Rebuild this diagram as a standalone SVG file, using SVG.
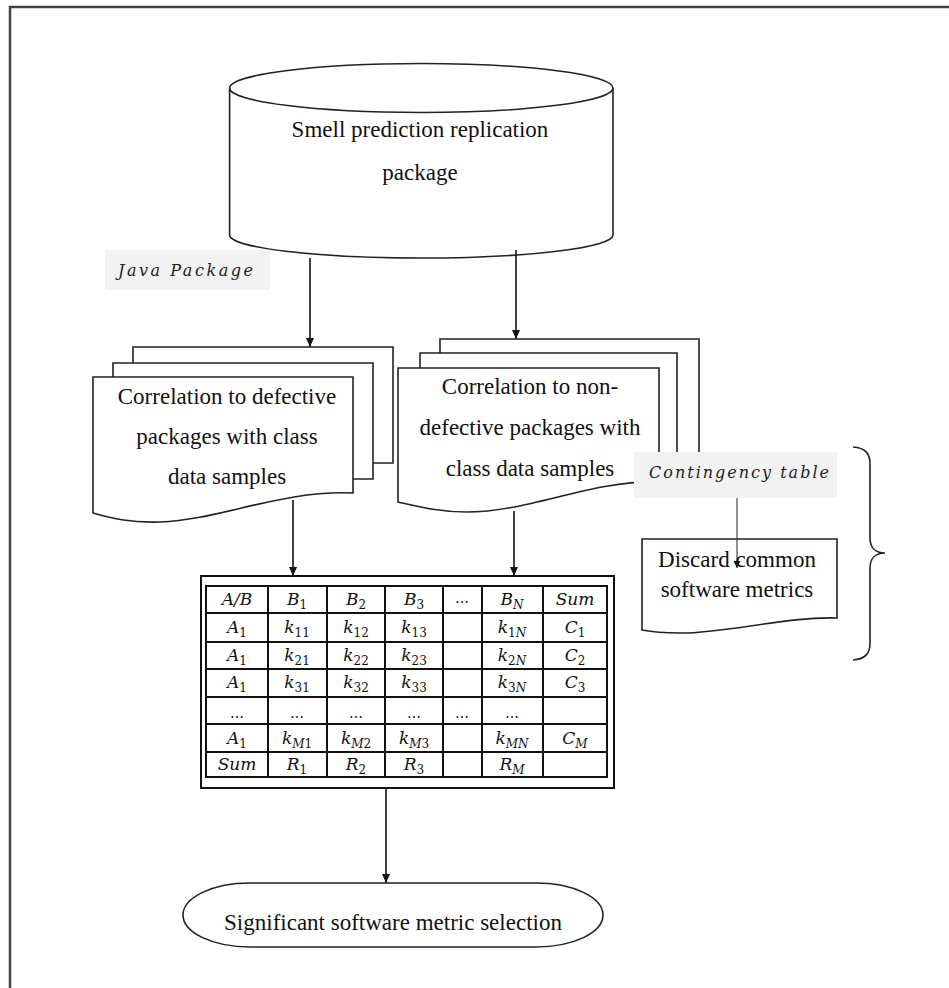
<svg xmlns="http://www.w3.org/2000/svg" width="949" height="988" viewBox="0 0 949 988">
<style>
.shape{fill:#fff;stroke:#222;stroke-width:1.6}
.line{fill:none;stroke:#222;stroke-width:1.6}
.txt{font-family:"Liberation Serif","Times New Roman",serif;font-size:23px;fill:#111;text-anchor:middle}
.lbl{font-family:"DejaVu Serif",serif;font-style:italic;font-size:16px;fill:#222}
.lblbox{fill:#f2f2f2;stroke:none}
.cell{font-family:"DejaVu Serif",serif;font-style:italic;font-size:17px;fill:#111;text-anchor:middle}
.dots{font-style:normal;font-size:14px}
.sub{font-style:normal;font-size:12px}
.subi{font-style:italic;font-size:12px}
.conn{fill:none;stroke:#111;stroke-width:1.6}
.grid{fill:none;stroke:#111;stroke-width:2}
</style>
<defs>
<marker id="ah" markerWidth="10" markerHeight="10" refX="9" refY="5" orient="auto" markerUnits="userSpaceOnUse">
<path d="M0,1 L9,5 L0,9 Z" fill="#111"/>
</marker>
<marker id="ahs" markerWidth="8" markerHeight="8" refX="7" refY="4" orient="auto" markerUnits="userSpaceOnUse">
<path d="M0,0.5 L7,4 L0,7.5 Z" fill="#111"/>
</marker>
</defs>
<rect width="949" height="988" fill="#fff"/>
<path d="M10,988 V7 H949" fill="none" stroke="#444" stroke-width="2.5"/>

<g id="cylinder">
<path class="shape" d="M229.6,88 V235 A191.7,23 0 0 0 613,235 V88"/>
<ellipse class="shape" cx="421.3" cy="88" rx="191.7" ry="24.5"/>
<text class="txt" x="420" y="137">Smell prediction  replication</text>
<text class="txt" x="420" y="180">package</text>
</g>

<g id="java-package-label">
<rect class="lblbox" x="105" y="250" width="165" height="40"/>
<text class="lbl" x="118" y="276" textLength="135" lengthAdjust="spacing">Java Package</text>
</g>

<g id="defective-docs">
<path class="line" d="M133,363 V347 H393 V463 H373"/>
<path class="line" d="M113,377 V363 H373 V479 H353"/>
<path class="shape" d="M93,377 H353 V493 C280,490 220,520 160,522 C130,523 110,518 93,513 Z"/>
<text class="txt" x="227" y="404">Correlation to defective</text>
<text class="txt" x="227" y="444">packages with class</text>
<text class="txt" x="227" y="484">data samples</text>
</g>

<g id="nondefective-docs">
<path class="line" d="M440,353 V339 H699 V480"/>
<path class="line" d="M420,368 V353 H677 V480"/>
<path class="shape" d="M398,368 H659 V482 C590,480 530,512 467,512 C440,512 420,507 398,502 Z"/>
<text class="txt" x="530" y="394">Correlation to non-</text>
<text class="txt" x="530" y="435">defective packages with</text>
<text class="txt" x="530" y="476">class data samples</text>
</g>

<g id="contingency-label">
<rect class="lblbox" x="634" y="452" width="203" height="46"/>
<text class="lbl" x="649" y="478" textLength="180" lengthAdjust="spacing">Contingency table</text>
</g>

<g id="discard-doc">
<path class="shape" d="M642,539 H837 V618 C790,616 720,634 680,633 C665,633 652,632 642,630 Z"/>
<text class="txt" x="737" y="567">Discard common</text>
<text class="txt" x="737" y="597">software metrics</text>
</g>

<g id="brace">
<path class="line" d="M853,447 C866,448 870,454 870,464 V538 C870,548 876,553 885,553 C876,553 870,558 870,568 V643 C870,653 866,659 853,660"/>
</g>

<g id="contingency-table">
<rect class="grid" x="201" y="576" width="413" height="212" fill="#fff"/>
<rect class="grid" x="206" y="586" width="401" height="191"/>
<path class="grid" d="M268,586 V777 M327,586 V777 M385,586 V777 M443,586 V777 M482,586 V777 M543,586 V777 M206,613 H607 M206,642 H607 M206,669 H607 M206,697 H607 M206,724 H607 M206,752 H607"/>
<text class="cell" x="237" y="605">A/B</text>
<text class="cell" x="297" y="605">B<tspan class="sub" dy="4">1</tspan></text>
<text class="cell" x="356" y="605">B<tspan class="sub" dy="4">2</tspan></text>
<text class="cell" x="414" y="605">B<tspan class="sub" dy="4">3</tspan></text>
<text class="cell dots" x="462" y="603">…</text>
<text class="cell" x="512" y="605">B<tspan class="subi" dy="4">N</tspan></text>
<text class="cell" x="575" y="605">Sum</text>

<text class="cell" x="237" y="633">A<tspan class="sub" dy="4">1</tspan></text>
<text class="cell" x="297" y="633">k<tspan class="sub" dy="4">11</tspan></text>
<text class="cell" x="356" y="633">k<tspan class="sub" dy="4">12</tspan></text>
<text class="cell" x="414" y="633">k<tspan class="sub" dy="4">13</tspan></text>
<text class="cell" x="512" y="633">k<tspan class="sub" dy="4">1</tspan><tspan class="subi">N</tspan></text>
<text class="cell" x="575" y="633">C<tspan class="sub" dy="4">1</tspan></text>

<text class="cell" x="237" y="661">A<tspan class="sub" dy="4">1</tspan></text>
<text class="cell" x="297" y="661">k<tspan class="sub" dy="4">21</tspan></text>
<text class="cell" x="356" y="661">k<tspan class="sub" dy="4">22</tspan></text>
<text class="cell" x="414" y="661">k<tspan class="sub" dy="4">23</tspan></text>
<text class="cell" x="512" y="661">k<tspan class="sub" dy="4">2</tspan><tspan class="subi">N</tspan></text>
<text class="cell" x="575" y="661">C<tspan class="sub" dy="4">2</tspan></text>

<text class="cell" x="237" y="688">A<tspan class="sub" dy="4">1</tspan></text>
<text class="cell" x="297" y="688">k<tspan class="sub" dy="4">31</tspan></text>
<text class="cell" x="356" y="688">k<tspan class="sub" dy="4">32</tspan></text>
<text class="cell" x="414" y="688">k<tspan class="sub" dy="4">33</tspan></text>
<text class="cell" x="512" y="688">k<tspan class="sub" dy="4">3</tspan><tspan class="subi">N</tspan></text>
<text class="cell" x="575" y="688">C<tspan class="sub" dy="4">3</tspan></text>

<text class="cell dots" x="237" y="718">…</text>
<text class="cell dots" x="297" y="718">…</text>
<text class="cell dots" x="356" y="718">…</text>
<text class="cell dots" x="414" y="718">…</text>
<text class="cell dots" x="462" y="718">…</text>
<text class="cell dots" x="512" y="718">…</text>

<text class="cell" x="237" y="744">A<tspan class="sub" dy="4">1</tspan></text>
<text class="cell" x="297" y="744">k<tspan class="subi" dy="4">M</tspan><tspan class="sub">1</tspan></text>
<text class="cell" x="356" y="744">k<tspan class="subi" dy="4">M</tspan><tspan class="sub">2</tspan></text>
<text class="cell" x="414" y="744">k<tspan class="subi" dy="4">M</tspan><tspan class="sub">3</tspan></text>
<text class="cell" x="512" y="744">k<tspan class="subi" dy="4">MN</tspan></text>
<text class="cell" x="575" y="744">C<tspan class="subi" dy="4">M</tspan></text>

<text class="cell" x="237" y="770">Sum</text>
<text class="cell" x="297" y="770">R<tspan class="sub" dy="4">1</tspan></text>
<text class="cell" x="356" y="770">R<tspan class="sub" dy="4">2</tspan></text>
<text class="cell" x="414" y="770">R<tspan class="sub" dy="4">3</tspan></text>
<text class="cell" x="512" y="770">R<tspan class="subi" dy="4">M</tspan></text>
</g>

<g id="selection">
<rect class="shape" x="183" y="883" width="420" height="64" rx="67" ry="32"/>
<text class="txt" x="393" y="930">Significant software metric  selection</text>
</g>

<g id="connectors">
<line class="conn" x1="310" y1="258" x2="310" y2="347" marker-end="url(#ah)"/>
<line class="conn" x1="516" y1="250" x2="516" y2="339" marker-end="url(#ah)"/>
<line class="conn" x1="293" y1="500" x2="293" y2="576" marker-end="url(#ah)"/>
<line class="conn" x1="514" y1="511" x2="514" y2="576" marker-end="url(#ah)"/>
<line class="conn" x1="386" y1="788" x2="386" y2="883" marker-end="url(#ah)"/>
<line x1="737" y1="498" x2="737" y2="568" stroke="#222" stroke-width="1" marker-end="url(#ahs)"/>
</g>
</svg>
